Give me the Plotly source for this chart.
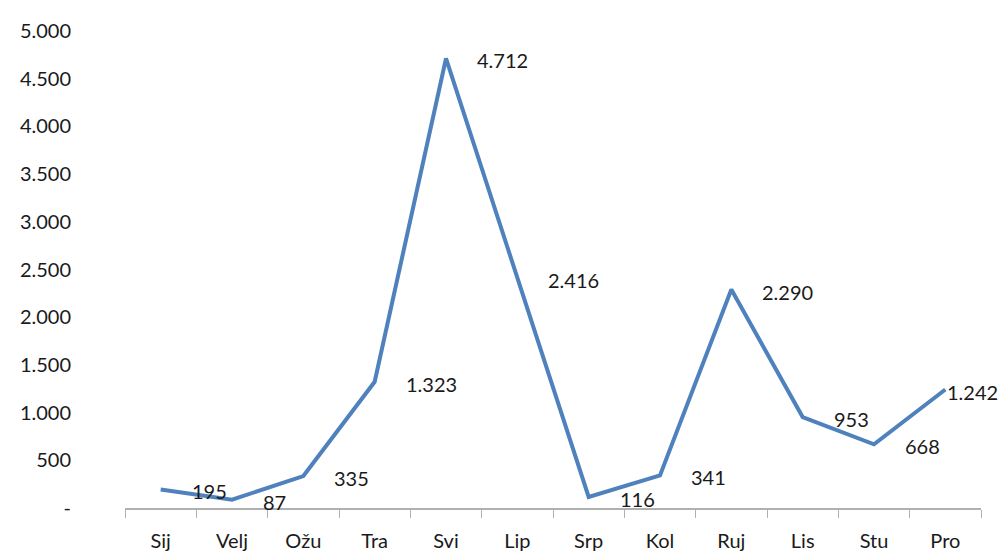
import plotly.graph_objects as go

months = ["Sij", "Velj", "Ožu", "Tra", "Svi", "Lip", "Srp", "Kol", "Ruj", "Lis", "Stu", "Pro"]
values = [195, 87, 335, 1323, 4712, 2416, 116, 341, 2290, 953, 668, 1242]
y_ticks = [0, 500, 1000, 1500, 2000, 2500, 3000, 3500, 4000, 4500, 5000]
y_tick_labels = ["-", "500", "1.000", "1.500", "2.000", "2.500", "3.000", "3.500", "4.000", "4.500", "5.000"]


def fmt(v):
    return f"{v:,}".replace(",", ".")


FONT = "Lato"
FS = 20
fig = go.Figure()
fig.add_trace(go.Scatter(
    x=months, y=values, mode="lines",
    line=dict(color="#4F81BD", width=4),
    hoverinfo="skip",
))

for i, (m, v) in enumerate(zip(months, values)):
    last = i == len(months) - 1
    fig.add_annotation(
        x=m, y=v, text=fmt(v), showarrow=False,
        xanchor="left", yanchor="middle",
        xshift=0 if last else 29, yshift=-2,
        font=dict(family=FONT, size=FS, color="#1a1a1a"),
    )

fig.update_layout(
    width=1004, height=556,
    margin=dict(l=125, r=23, t=31, b=48),
    paper_bgcolor="white", plot_bgcolor="white",
    showlegend=False,
    font=dict(family=FONT, size=FS, color="#1a1a1a"),
)
fig.update_xaxes(
    type="category", showgrid=False, zeroline=False, automargin=False,
    showline=True, linecolor="#b0b0b0", linewidth=1.5,
    ticks="outside", tickson="boundaries", ticklen=8, tickcolor="#b0b0b0",
    ticklabelstandoff=14,
    tickfont=dict(family=FONT, size=FS, color="#1a1a1a"),
    range=[-0.5, 11.5],
)
fig.update_yaxes(
    range=[0, 5000], showgrid=False, zeroline=False, showline=False, automargin=False,
    tickvals=y_ticks, ticktext=y_tick_labels,
    ticks="", ticklabelstandoff=53,
    tickfont=dict(family=FONT, size=FS, color="#1a1a1a"),
)

fig.write_html("out.html")
